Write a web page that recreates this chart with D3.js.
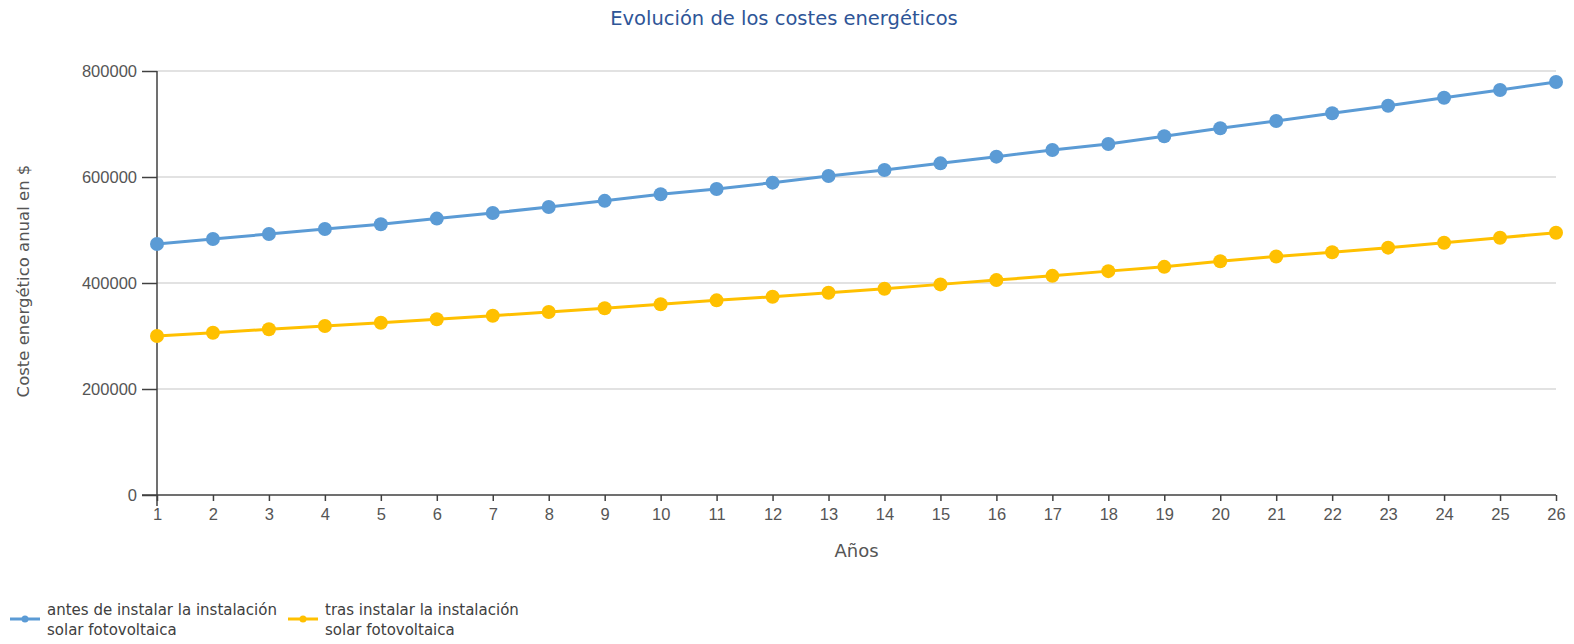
<!DOCTYPE html>
<html>
<head>
<meta charset="utf-8">
<script src="https://cdn.jsdelivr.net/npm/d3@7"></script>
<style>
  body { margin: 0; background: #fff; }
  svg { font-family: "DejaVu Sans", sans-serif; }
</style>
</head>
<body>
<div class="chart"></div>
<script>
// años 1..26
const years = d3.range(1, 27);
// antes de instalar la instalación solar fotovoltaica
const antes = [473600, 483000, 492500, 501900, 510800, 521500, 532000, 543500, 555000, 567400,
  577400, 589300, 601900, 613200, 625800, 638400, 650900, 662300, 677000, 691900,
  705700, 720200, 734500, 749600, 764200, 779200];
// tras instalar la instalación solar fotovoltaica
const tras = [300000, 306200, 312600, 318900, 325100, 331500, 338300, 345300, 352300, 359800,
  367300, 374100, 381700, 389200, 397400, 405500, 413500, 422400, 430500, 441000,
  450000, 458000, 466700, 476000, 485500, 494900];
const yTicks = [0, 200000, 400000, 600000, 800000];
const seriesNames = ["antes de instalar la instalación|solar fotovoltaica", "tras instalar la instalación|solar fotovoltaica"];
const seriesColors = ["#5b9bd5", "#ffc000"];

const w = 1574, h = 644;
const margin = { top: 71, bottom: 149, left: 157, right: 18 };

const xScale = d3.scaleLinear()
  .domain([1, 26])
  .range([margin.left, w - margin.right]);
const yScale = d3.scaleLinear()
  .domain([0, 800000])
  .range([h - margin.bottom, margin.top]);

const svg = d3.select(".chart")
  .append("svg")
  .attr("width", w)
  .attr("height", h);

// gridlines
svg.append("g")
  .selectAll("line")
  .data(yTicks.filter(d => d > 0))
  .enter()
  .append("line")
  .attr("x1", margin.left)
  .attr("x2", w - margin.right)
  .attr("y1", d => yScale(d))
  .attr("y2", d => yScale(d))
  .attr("stroke", "#d9d9d9")
  .attr("stroke-width", 1.5);

const xAxis = d3.axisBottom(xScale).tickValues(years).tickFormat(d3.format("d")).tickSize(6).tickSizeOuter(0).tickPadding(7);
const yAxis = d3.axisLeft(yScale).tickValues(yTicks).tickFormat(d3.format("d")).tickSize(15).tickSizeOuter(0).tickPadding(5);

const gx = svg.append("g")
  .attr("transform", `translate(0, ${h - margin.bottom})`)
  .call(xAxis);
const gy = svg.append("g")
  .attr("transform", `translate(${margin.left}, 0)`)
  .call(yAxis);

[gx, gy].forEach(g => {
  g.select(".domain").remove();
  g.selectAll(".tick line").attr("stroke", "#404040").attr("stroke-width", 1.5);
  g.selectAll(".tick text").attr("fill", "#555").style("font-size", "16.5px");
});

// axis lines, crossing a bit
svg.append("line")
  .attr("x1", margin.left - 15).attr("x2", w - margin.right)
  .attr("y1", yScale(0)).attr("y2", yScale(0))
  .attr("stroke", "#404040").attr("stroke-width", 1.5);
svg.append("line")
  .attr("x1", margin.left).attr("x2", margin.left)
  .attr("y1", yScale(800000)).attr("y2", yScale(0) + 11)
  .attr("stroke", "#404040").attr("stroke-width", 1.5);

// series
const line = d3.line()
  .x((d, i) => xScale(years[i]))
  .y(d => yScale(d));

[antes, tras].forEach((vals, s) => {
  svg.append("path")
    .datum(vals)
    .attr("d", line)
    .attr("fill", "none")
    .attr("stroke", seriesColors[s])
    .attr("stroke-width", 3);
  svg.append("g")
    .selectAll("circle")
    .data(vals)
    .enter()
    .append("circle")
    .attr("cx", (d, i) => xScale(years[i]))
    .attr("cy", d => yScale(d))
    .attr("r", 7)
    .attr("fill", seriesColors[s]);
});

// title
svg.append("text")
  .attr("x", 784)
  .attr("y", 25)
  .attr("text-anchor", "middle")
  .attr("fill", "#2e5597")
  .style("font-size", "19.5px")
  .text("Evolución de los costes energéticos");

// axis titles
svg.append("text")
  .attr("x", (margin.left + w - margin.right) / 2)
  .attr("y", 557)
  .attr("text-anchor", "middle")
  .attr("fill", "#555")
  .style("font-size", "18px")
  .text("Años");

svg.append("text")
  .attr("transform", "translate(29, 281) rotate(-90)")
  .attr("text-anchor", "middle")
  .attr("fill", "#555")
  .style("font-size", "16.5px")
  .text("Coste energético anual en $");

// legend
const legendX = [10, 288];
seriesNames.forEach((name, s) => {
  const g = svg.append("g").attr("transform", `translate(${legendX[s]}, 619)`);
  g.append("line")
    .attr("x1", 0).attr("x2", 30)
    .attr("y1", 0).attr("y2", 0)
    .attr("stroke", seriesColors[s])
    .attr("stroke-width", 3);
  g.append("circle")
    .attr("cx", 15).attr("cy", 0).attr("r", 3.5)
    .attr("fill", seriesColors[s]);
  const t = g.append("text")
    .attr("x", 37)
    .attr("fill", "#404040")
    .style("font-size", "15px");
  name.split("|").forEach((part, k) => {
    t.append("tspan")
      .attr("x", 37)
      .attr("y", k === 0 ? -4 : 16)
      .text(part);
  });
});
</script>
</body>
</html>
